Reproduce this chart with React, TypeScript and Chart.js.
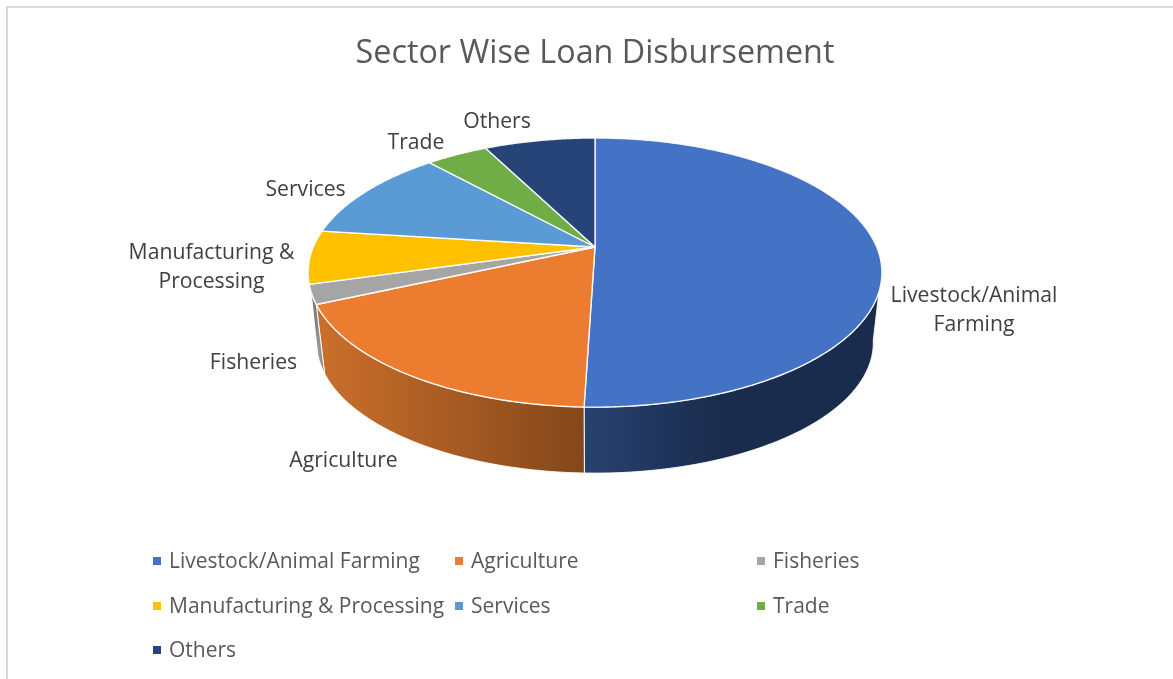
import React, { useEffect, useRef } from "react";
import { Chart, registerables } from "chart.js";

Chart.register(...registerables);

const categories = [
  "Livestock/Animal Farming",
  "Agriculture",
  "Fisheries",
  "Manufacturing & Processing",
  "Services",
  "Trade",
  "Others",
];
const shares = [50.5, 17.8, 2.3, 6.4, 11.3, 4.2, 7.5];
const sliceColors = ["#4472C4", "#EC7C30", "#A5A5A5", "#FFC000", "#5B9BD5", "#70AD47", "#264478"];
const wallLight = ["#274270", "#C96E2B", "#949494", "#B38600", "#3F6F9C", "#4E7A32", "#1A2F55"];
const wallDark = ["#1A2C4D", "#84471A", "#7C7C7C", "#997300", "#2E5478", "#43682B", "#16284A"];

// label lines (wrapped as in the picture) with their anchor centres
const labelLines = [
  ["Livestock/Animal", "Farming"],
  ["Agriculture"],
  ["Fisheries"],
  ["Manufacturing &", "Processing"],
  ["Services"],
  ["Trade"],
  ["Others"],
];
const labelAnchors = [
  [974, 310.5],
  [343.5, 460.5],
  [253.5, 362.5],
  [211.5, 267],
  [305.5, 189.5],
  [416, 142.5],
  [497, 121.5],
];
const legendColumns = [153, 455, 757];
const legendRows = [562, 607, 651];

const FONT = '"Open Sans", sans-serif';
const CX = 595;
const CY = 247;
const K = 0.19;
const RB = 129.7;
const RC = 281.7;
const BOTTOM_SCALE = 0.97;
const BOTTOM_DROP = 70.8;
const deg = Math.PI / 180;
const TOP_RANGE = [19 * deg, 161 * deg];
const BOTTOM_RANGE = [10 * deg, 170 * deg];

function project(a: number, scale = 1, drop = 0): [number, number] {
  const X = Math.cos(a);
  const Y = Math.sin(a);
  const w = 1 - K * Y;
  return [CX + (scale * RC * X) / w, CY + drop + (scale * RB * Y) / w];
}

function tracePoints(ctx: CanvasRenderingContext2D, a0: number, a1: number, scale: number, drop: number, first: boolean) {
  const steps = Math.max(2, Math.ceil(Math.abs(a1 - a0) / 0.01));
  for (let i = 0; i <= steps; i++) {
    const a = a0 + ((a1 - a0) * i) / steps;
    const [x, y] = project(a, scale, drop);
    if (i === 0 && first) ctx.moveTo(x, y);
    else ctx.lineTo(x, y);
  }
}

const pie3d = {
  id: "pie3d",
  beforeDatasetsDraw(chart: any) {
    const ctx: CanvasRenderingContext2D = chart.ctx;
    const arcs = chart.getDatasetMeta(0).data;
    ctx.save();
    ctx.lineJoin = "round";
    // walls
    arcs.forEach((arc: any, i: number) => {
      const t0 = Math.max(arc.startAngle, TOP_RANGE[0]);
      const t1 = Math.min(arc.endAngle, TOP_RANGE[1]);
      const b0 = Math.max(arc.startAngle, BOTTOM_RANGE[0]);
      const b1 = Math.min(arc.endAngle, BOTTOM_RANGE[1]);
      if (t1 <= t0 || b1 <= b0) return;
      const leftX = project(b1, BOTTOM_SCALE, BOTTOM_DROP)[0];
      const rightX = project(t0)[0];
      const g = ctx.createLinearGradient(leftX, 0, rightX, 0);
      g.addColorStop(0, wallLight[i]);
      if (i === 0) g.addColorStop(0.45, wallDark[i]);
      g.addColorStop(1, wallDark[i]);
      ctx.beginPath();
      tracePoints(ctx, t0, t1, 1, 0, true);
      tracePoints(ctx, b1, b0, BOTTOM_SCALE, BOTTOM_DROP, false);
      ctx.closePath();
      ctx.fillStyle = g;
      ctx.fill();
      ctx.strokeStyle = "rgba(255,255,255,0.9)";
      ctx.lineWidth = 1;
      ctx.stroke();
    });
    // top face
    arcs.forEach((arc: any) => {
      ctx.beginPath();
      ctx.moveTo(CX, CY);
      tracePoints(ctx, arc.startAngle, arc.endAngle, 1, 0, false);
      ctx.closePath();
      ctx.fillStyle = arc.options.backgroundColor;
      ctx.fill();
      ctx.strokeStyle = "rgba(255,255,255,0.92)";
      ctx.lineWidth = 1.4;
      ctx.stroke();
    });
    ctx.restore();
    return false;
  },
  afterDraw(chart: any) {
    const ctx: CanvasRenderingContext2D = chart.ctx;
    ctx.save();
    ctx.textBaseline = "middle";
    // data labels
    ctx.font = `21.2px ${FONT}`;
    ctx.fillStyle = "#404040";
    ctx.textAlign = "center";
    labelLines.forEach((lines, i) => {
      const [x, y] = labelAnchors[i];
      const lh = 29;
      lines.forEach((t, j) => {
        ctx.fillText(t, x, y + (j - (lines.length - 1) / 2) * lh);
      });
    });
    // legend
    ctx.textAlign = "left";
    ctx.font = `21px ${FONT}`;
    categories.forEach((name, i) => {
      const col = legendColumns[i % 3];
      const row = legendRows[Math.floor(i / 3)];
      ctx.fillStyle = sliceColors[i];
      ctx.fillRect(col, row - 5, 8, 8);
      ctx.fillStyle = "#595959";
      ctx.fillText(name, col + 16, row);
    });
    ctx.restore();
  },
};

export default function App() {
  const ref = useRef<HTMLCanvasElement>(null);
  useEffect(() => {
    document.body.style.margin = "0";
    const chart = new Chart(ref.current as HTMLCanvasElement, {
      type: "pie",
      data: {
        labels: categories,
        datasets: [{ data: shares, backgroundColor: sliceColors, borderColor: "#ffffff" }],
      },
      options: {
        responsive: false,
        animation: false,
        devicePixelRatio: 1,
        layout: { padding: { left: 17, top: 8, right: 0, bottom: 0 } },
        plugins: {
          legend: { display: false },
          tooltip: { enabled: false },
          title: {
            display: true,
            text: "Sector Wise Loan Disbursement",
            color: "#595959",
            font: { family: FONT, size: 32.3, weight: "normal" },
            padding: { top: 26, bottom: 10 },
          },
        },
      },
      plugins: [pie3d],
    } as any);
    return () => chart.destroy();
  }, []);
  return (
    <div style={{ position: "relative", width: 1173, height: 679, background: "#fff", overflow: "hidden" }}>
      <canvas ref={ref} width={1173} height={679} style={{ display: "block" }} />
      <div
        style={{
          position: "absolute",
          left: 6,
          top: 6,
          width: 1173,
          height: 679,
          borderLeft: "2px solid #d9d9d9",
          borderTop: "2px solid #d9d9d9",
        }}
      />
    </div>
  );
}
